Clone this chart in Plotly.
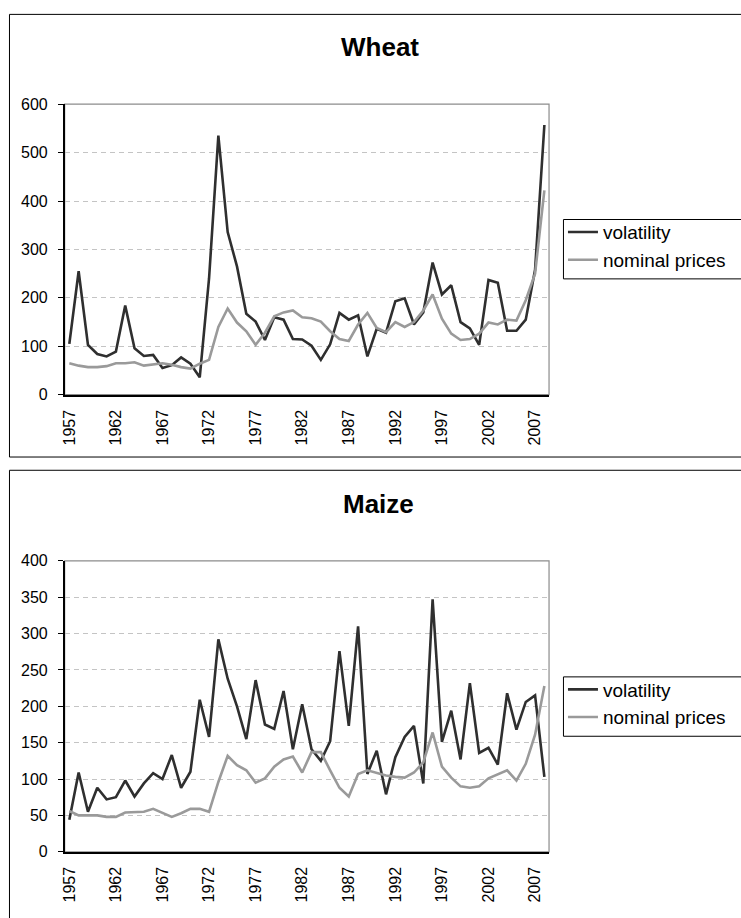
import plotly.graph_objects as go

years = list(range(1957, 2009))
tick_years = list(range(1957, 2008, 5))

wheat_volatility = [105, 255, 103, 84, 79, 89, 184, 96, 80, 82, 55, 61, 77, 64, 36, 240,
                    535, 336, 265, 167, 151, 113, 160, 155, 115, 114, 101, 72, 104, 169,
                    155, 164, 79, 136, 128, 193, 199, 145, 170, 273, 207, 226, 150, 137,
                    103, 237, 231, 132, 132, 155, 258, 557]
wheat_prices = [65, 60, 57, 57, 59, 65, 65, 67, 60, 62, 65, 62, 57, 54, 64, 72,
                140, 178, 149, 131, 103, 128, 162, 170, 174, 160, 158, 151, 131, 115,
                111, 145, 169, 138, 129, 150, 140, 150, 174, 207, 157, 126, 113, 115,
                126, 149, 145, 155, 153, 195, 250, 422]

maize_volatility = [44, 109, 55, 88, 72, 75, 98, 76, 94, 108, 100, 133, 88, 110, 209, 158,
                    292, 238, 200, 155, 236, 175, 169, 221, 141, 203, 141, 125, 152, 276,
                    173, 310, 107, 139, 79, 130, 158, 173, 94, 347, 151, 194, 127, 232,
                    136, 143, 120, 218, 168, 206, 215, 103]
maize_prices = [56, 50, 50, 50, 48, 48, 54, 55, 55, 59, 54, 48, 53, 59, 59, 55,
                96, 132, 119, 112, 95, 101, 117, 127, 131, 109, 137, 137, 112, 88,
                76, 107, 112, 108, 105, 103, 102, 109, 123, 164, 117, 102, 90, 88,
                90, 101, 106, 112, 98, 121, 161, 228]

W, H = 741, 918
VOL_COLOR = "#2f2f2f"
PRICE_COLOR = "#9a9a9a"
FONT = "Liberation Sans, Arial, sans-serif"

def px_x(x):
    return x / W

def px_y(y):
    return 1 - y / H

fig = go.Figure()

fig.add_trace(go.Scatter(x=years, y=wheat_volatility, name="volatility", mode="lines",
                         line=dict(color=VOL_COLOR, width=2.6), xaxis="x", yaxis="y",
                         legend="legend"))
fig.add_trace(go.Scatter(x=years, y=wheat_prices, name="nominal prices", mode="lines",
                         line=dict(color=PRICE_COLOR, width=2.6), xaxis="x", yaxis="y",
                         legend="legend"))
fig.add_trace(go.Scatter(x=years, y=maize_volatility, name="volatility", mode="lines",
                         line=dict(color=VOL_COLOR, width=2.6), xaxis="x2", yaxis="y2",
                         legend="legend2"))
fig.add_trace(go.Scatter(x=years, y=maize_prices, name="nominal prices", mode="lines",
                         line=dict(color=PRICE_COLOR, width=2.6), xaxis="x2", yaxis="y2",
                         legend="legend2"))

xdom = [px_x(61), px_x(548)]

def xaxis_cfg(anchor):
    return dict(domain=xdom, anchor=anchor, range=[1956.5, 2008.5],
                tickvals=tick_years, ticktext=[str(t) for t in tick_years],
                tickangle=-90, showgrid=False, zeroline=False,
                showline=True, linecolor="black", linewidth=1.5,
                ticks="", ticklabelstandoff=7,
                tickfont=dict(family=FONT, size=16, color="black"))

def yaxis_cfg(anchor, dom, rng, dtick):
    return dict(domain=dom, anchor=anchor, range=rng, dtick=dtick,
                showgrid=True, gridcolor="#c4c4c4", griddash="5px,4px", gridwidth=1,
                zeroline=False, showline=True, linecolor="black", linewidth=1.5,
                ticks="outside", ticklen=5, tickcolor="black", ticklabelstandoff=7,
                tickfont=dict(family=FONT, size=16, color="black"))

legend_common = dict(xanchor="left", yanchor="top", borderwidth=0,
                     bgcolor="rgba(0,0,0,0)",
                     font=dict(family=FONT, size=19, color="black"),
                     tracegroupgap=0, itemwidth=30)

fig.update_layout(
    width=W, height=H, autosize=False,
    margin=dict(l=0, r=0, t=0, b=0),
    paper_bgcolor="white", plot_bgcolor="white",
    xaxis=xaxis_cfg("y"),
    yaxis=yaxis_cfg("x", [px_y(394), px_y(98)], [0, 600], 100),
    xaxis2=xaxis_cfg("y2"),
    yaxis2=yaxis_cfg("x2", [px_y(859.7), px_y(563.3)], [0, 400], 50),
    legend=dict(x=px_x(562), y=px_y(209), **legend_common),
    legend2=dict(x=px_x(562), y=px_y(675), **legend_common),
    showlegend=True,
)

shapes = [
    # outer chart boxes
    dict(type="rect", xref="paper", yref="paper", x0=px_x(5.5), x1=px_x(760),
         y0=px_y(457.5), y1=px_y(6.5), line=dict(color="black", width=1)),
    dict(type="rect", xref="paper", yref="paper", x0=px_x(5.5), x1=px_x(760),
         y0=px_y(940), y1=px_y(471), line=dict(color="black", width=1)),
    # plot area gray borders
    dict(type="rect", xref="x domain", yref="y domain", x0=0, x1=1, y0=0, y1=1,
         line=dict(color="#8c8c8c", width=1.2), layer="below"),
    dict(type="rect", xref="x2 domain", yref="y2 domain", x0=0, x1=1, y0=0, y1=1,
         line=dict(color="#8c8c8c", width=1.2), layer="below"),
    # legend boxes
    dict(type="rect", xref="paper", yref="paper", x0=px_x(562.5), x1=px_x(760),
         y0=px_y(276), y1=px_y(215.5), line=dict(color="black", width=1)),
    dict(type="rect", xref="paper", yref="paper", x0=px_x(562.5), x1=px_x(760),
         y0=px_y(742), y1=px_y(681.5), line=dict(color="black", width=1)),
]
fig.update_layout(shapes=shapes)

fig.add_annotation(text="<b>Wheat</b>", xref="paper", yref="paper",
                   x=px_x(378), y=px_y(40), xanchor="center", yanchor="middle",
                   showarrow=False, font=dict(family=FONT, size=26, color="black"))
fig.add_annotation(text="<b>Maize</b>", xref="paper", yref="paper",
                   x=px_x(377), y=px_y(505), xanchor="center", yanchor="middle",
                   showarrow=False, font=dict(family=FONT, size=26, color="black"))

fig.write_html("out.html", config={"displayModeBar": False},
               post_script="document.body.style.margin='0';document.body.style.padding='0';")
